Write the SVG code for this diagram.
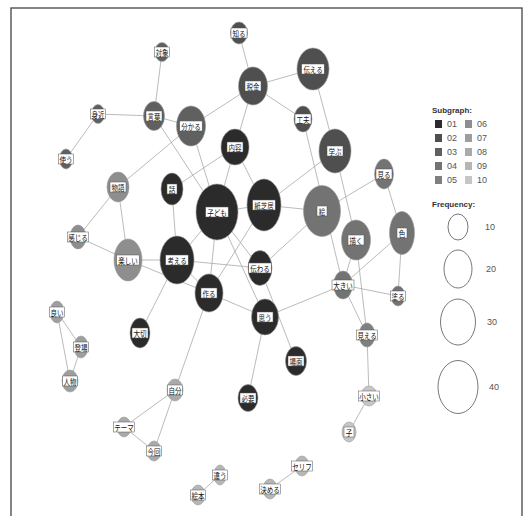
<svg xmlns="http://www.w3.org/2000/svg" width="525" height="516" viewBox="0 0 525 516">
<style>
.bg{fill:#fff}
.frame{fill:none;stroke:#444;stroke-width:1.3}
.e line{stroke:#aaa;stroke-width:0.8}
.n ellipse{stroke:#999;stroke-width:0.6}
.n rect{fill:#fff;stroke:#555;stroke-width:0.5}
.n text{font-family:"Noto Sans CJK JP","Noto Sans",sans-serif;font-size:6.5px;fill:#111;text-anchor:middle;dominant-baseline:central}
.s1{fill:#2b2b2b}.s2{fill:#4f4f4f}.s3{fill:#606060}.s4{fill:#737373}.s5{fill:#808080}
.s6{fill:#8e8e8e}.s7{fill:#9e9e9e}.s8{fill:#aaaaaa}.s9{fill:#b6b6b6}.s10{fill:#c6c6c6}
.lg text{font-family:"Liberation Sans Narrow","Liberation Sans",sans-serif;font-size:9px;fill:#555;dominant-baseline:central}
.lg .ttl{font-family:"Liberation Sans",sans-serif;font-weight:bold;font-size:8px;fill:#333}
.lg ellipse{fill:none;stroke:#555;stroke-width:0.8}
</style>
<rect class="bg" x="0" y="0" width="525" height="516"/>
<rect class="frame" x="11" y="8" width="511" height="520"/>
<g id="connectors" class="e">
<line x1="253" y1="86" x2="239" y2="33"/>
<line x1="253" y1="86" x2="313" y2="69"/>
<line x1="253" y1="86" x2="303" y2="119"/>
<line x1="253" y1="86" x2="191" y2="126"/>
<line x1="253" y1="86" x2="235" y2="147"/>
<line x1="313" y1="69" x2="335" y2="151"/>
<line x1="303" y1="119" x2="343" y2="285"/>
<line x1="335" y1="151" x2="356" y2="240"/>
<line x1="335" y1="151" x2="264" y2="205"/>
<line x1="322" y1="211" x2="384" y2="174"/>
<line x1="384" y1="174" x2="402" y2="233"/>
<line x1="356" y1="240" x2="343" y2="285"/>
<line x1="356" y1="240" x2="367" y2="335"/>
<line x1="402" y1="233" x2="343" y2="285"/>
<line x1="402" y1="233" x2="398" y2="296"/>
<line x1="343" y1="285" x2="398" y2="296"/>
<line x1="343" y1="285" x2="367" y2="335"/>
<line x1="343" y1="285" x2="265" y2="317"/>
<line x1="322" y1="211" x2="264" y2="205"/>
<line x1="322" y1="211" x2="260" y2="268"/>
<line x1="367" y1="335" x2="369" y2="396"/>
<line x1="369" y1="396" x2="349" y2="432"/>
<line x1="264" y1="205" x2="217" y2="212"/>
<line x1="264" y1="205" x2="209" y2="293"/>
<line x1="264" y1="205" x2="235" y2="147"/>
<line x1="217" y1="212" x2="235" y2="147"/>
<line x1="217" y1="212" x2="191" y2="126"/>
<line x1="217" y1="212" x2="154" y2="116"/>
<line x1="217" y1="212" x2="177" y2="260"/>
<line x1="217" y1="212" x2="209" y2="293"/>
<line x1="217" y1="212" x2="260" y2="268"/>
<line x1="217" y1="212" x2="265" y2="317"/>
<line x1="172" y1="189" x2="235" y2="147"/>
<line x1="172" y1="189" x2="177" y2="260"/>
<line x1="177" y1="260" x2="260" y2="268"/>
<line x1="177" y1="260" x2="128" y2="260"/>
<line x1="177" y1="260" x2="209" y2="293"/>
<line x1="177" y1="260" x2="140" y2="333"/>
<line x1="128" y1="260" x2="209" y2="293"/>
<line x1="128" y1="260" x2="118" y2="187"/>
<line x1="128" y1="260" x2="78" y2="237"/>
<line x1="118" y1="187" x2="78" y2="237"/>
<line x1="118" y1="187" x2="191" y2="126"/>
<line x1="154" y1="116" x2="162" y2="52"/>
<line x1="154" y1="116" x2="98" y2="114"/>
<line x1="154" y1="116" x2="191" y2="126"/>
<line x1="98" y1="114" x2="66" y2="159"/>
<line x1="209" y1="293" x2="265" y2="317"/>
<line x1="209" y1="293" x2="175" y2="390"/>
<line x1="265" y1="317" x2="248" y2="398"/>
<line x1="260" y1="268" x2="296" y2="361"/>
<line x1="57" y1="312" x2="81" y2="347"/>
<line x1="57" y1="312" x2="70" y2="381"/>
<line x1="81" y1="347" x2="70" y2="381"/>
<line x1="175" y1="390" x2="124" y2="427"/>
<line x1="175" y1="390" x2="154" y2="451"/>
<line x1="124" y1="427" x2="154" y2="451"/>
<line x1="220" y1="475" x2="198" y2="495"/>
<line x1="270" y1="489" x2="302" y2="466"/>
</g>
<g id="n-shiru" class="n" transform="translate(239,33)"><ellipse class="s2" rx="8.5" ry="11"/><rect x="-8" y="-5" width="16" height="10"/><text transform="scale(1,1.3)">知る</text></g>
<g id="n-tsutaeru" class="n" transform="translate(313,69)"><ellipse class="s2" rx="16" ry="21"/><rect x="-11.3" y="-5" width="22.5" height="10"/><text transform="scale(1,1.3)">伝える</text></g>
<g id="n-zeikin" class="n" transform="translate(253,86)"><ellipse class="s2" rx="14.5" ry="19"/><rect x="-8" y="-5" width="16" height="10"/><text transform="scale(1,1.3)">税金</text></g>
<g id="n-kufu" class="n" transform="translate(303,119)"><ellipse class="s2" rx="9" ry="13"/><rect x="-8" y="-5" width="16" height="10"/><text transform="scale(1,1.3)">工夫</text></g>
<g id="n-manabu" class="n" transform="translate(335,151)"><ellipse class="s2" rx="16" ry="22"/><rect x="-8" y="-5" width="16" height="10"/><text transform="scale(1,1.3)">学ぶ</text></g>
<g id="n-wakaru" class="n" transform="translate(191,126)"><ellipse class="s3" rx="14.5" ry="20"/><rect x="-11.3" y="-5" width="22.5" height="10"/><text transform="scale(1,1.3)">分かる</text></g>
<g id="n-naiyo" class="n" transform="translate(235,147)"><ellipse class="s1" rx="14" ry="18"/><rect x="-8" y="-5" width="16" height="10"/><text transform="scale(1,1.3)">内容</text></g>
<g id="n-kotoba" class="n" transform="translate(154,116)"><ellipse class="s3" rx="10.5" ry="14.5"/><rect x="-8" y="-5" width="16" height="10"/><text transform="scale(1,1.3)">言葉</text></g>
<g id="n-taisho" class="n" transform="translate(162,52)"><ellipse class="s3" rx="7" ry="9.5"/><rect x="-7.5" y="-5" width="15" height="10"/><text transform="scale(1,1.3)">対象</text></g>
<g id="n-mijika" class="n" transform="translate(98,114)"><ellipse class="s3" rx="6.5" ry="9.5"/><rect x="-7.5" y="-5" width="15" height="10"/><text transform="scale(1,1.3)">身近</text></g>
<g id="n-tsukau" class="n" transform="translate(66,159)"><ellipse class="s3" rx="6.5" ry="10"/><rect x="-7.5" y="-5" width="15" height="10"/><text transform="scale(1,1.3)">使う</text></g>
<g id="n-monogatari" class="n" transform="translate(118,187)"><ellipse class="s6" rx="11" ry="15"/><rect x="-8" y="-5" width="16" height="10"/><text transform="scale(1,1.3)">物語</text></g>
<g id="n-kanjiru" class="n" transform="translate(78,237)"><ellipse class="s6" rx="8" ry="12"/><rect x="-10.5" y="-5" width="21" height="10"/><text transform="scale(1,1.3)">感じる</text></g>
<g id="n-tanoshii" class="n" transform="translate(128,260)"><ellipse class="s6" rx="14" ry="21"/><rect x="-11.3" y="-5" width="22.5" height="10"/><text transform="scale(1,1.3)">楽しい</text></g>
<g id="n-yoi" class="n" transform="translate(57,312)"><ellipse class="s7" rx="7" ry="11"/><rect x="-7.5" y="-5" width="15" height="10"/><text transform="scale(1,1.3)">良い</text></g>
<g id="n-tojo" class="n" transform="translate(81,347)"><ellipse class="s7" rx="7" ry="11"/><rect x="-7.5" y="-5" width="15" height="10"/><text transform="scale(1,1.3)">登場</text></g>
<g id="n-jinbutsu" class="n" transform="translate(70,381)"><ellipse class="s7" rx="8" ry="11"/><rect x="-7.5" y="-5" width="15" height="10"/><text transform="scale(1,1.3)">人物</text></g>
<g id="n-taisetsu" class="n" transform="translate(140,333)"><ellipse class="s1" rx="10" ry="15"/><rect x="-8" y="-5" width="16" height="10"/><text transform="scale(1,1.3)">大切</text></g>
<g id="n-hanashi" class="n" transform="translate(172,189)"><ellipse class="s1" rx="11" ry="16"/><rect x="-5" y="-5" width="10" height="10"/><text transform="scale(1,1.3)">話</text></g>
<g id="n-kodomo" class="n" transform="translate(217,212)"><ellipse class="s1" rx="21" ry="28"/><rect x="-11.3" y="-5" width="22.5" height="10"/><text transform="scale(1,1.3)">子ども</text></g>
<g id="n-kamishibai" class="n" transform="translate(264,205)"><ellipse class="s1" rx="17" ry="26"/><rect x="-11.3" y="-5" width="22.5" height="10"/><text transform="scale(1,1.3)">紙芝居</text></g>
<g id="n-e" class="n" transform="translate(322,211)"><ellipse class="s4" rx="18.5" ry="25.5"/><rect x="-5" y="-5" width="10" height="10"/><text transform="scale(1,1.3)">絵</text></g>
<g id="n-miru" class="n" transform="translate(384,174)"><ellipse class="s4" rx="9.5" ry="15"/><rect x="-8" y="-5" width="16" height="10"/><text transform="scale(1,1.3)">見る</text></g>
<g id="n-kaku" class="n" transform="translate(356,240)"><ellipse class="s4" rx="14.5" ry="20"/><rect x="-8" y="-5" width="16" height="10"/><text transform="scale(1,1.3)">描く</text></g>
<g id="n-iro" class="n" transform="translate(402,233)"><ellipse class="s4" rx="12.5" ry="21.5"/><rect x="-5" y="-5" width="10" height="10"/><text transform="scale(1,1.3)">色</text></g>
<g id="n-ookii" class="n" transform="translate(343,285)"><ellipse class="s4" rx="9.5" ry="14"/><rect x="-11" y="-5" width="22" height="10"/><text transform="scale(1,1.3)">大きい</text></g>
<g id="n-nuru" class="n" transform="translate(398,296)"><ellipse class="s4" rx="7" ry="10"/><rect x="-7.5" y="-5" width="15" height="10"/><text transform="scale(1,1.3)">塗る</text></g>
<g id="n-mieru" class="n" transform="translate(367,335)"><ellipse class="s5" rx="8" ry="12"/><rect x="-10.5" y="-5" width="21" height="10"/><text transform="scale(1,1.3)">見える</text></g>
<g id="n-chiisai" class="n" transform="translate(369,396)"><ellipse class="s10" rx="8" ry="10"/><rect x="-10.5" y="-5" width="21" height="10"/><text transform="scale(1,1.3)">小さい</text></g>
<g id="n-ko" class="n" transform="translate(349,432)"><ellipse class="s10" rx="7" ry="10"/><rect x="-5" y="-5" width="10" height="10"/><text transform="scale(1,1.3)">子</text></g>
<g id="n-kangaeru" class="n" transform="translate(177,260)"><ellipse class="s1" rx="17" ry="24"/><rect x="-11.3" y="-5" width="22.5" height="10"/><text transform="scale(1,1.3)">考える</text></g>
<g id="n-tsutawaru" class="n" transform="translate(260,268)"><ellipse class="s1" rx="12" ry="17.5"/><rect x="-11.3" y="-5" width="22.5" height="10"/><text transform="scale(1,1.3)">伝わる</text></g>
<g id="n-tsukuru" class="n" transform="translate(209,293)"><ellipse class="s1" rx="14" ry="19"/><rect x="-8" y="-5" width="16" height="10"/><text transform="scale(1,1.3)">作る</text></g>
<g id="n-omou" class="n" transform="translate(265,317)"><ellipse class="s1" rx="13.5" ry="18"/><rect x="-8" y="-5" width="16" height="10"/><text transform="scale(1,1.3)">思う</text></g>
<g id="n-bamen" class="n" transform="translate(296,361)"><ellipse class="s1" rx="10.5" ry="14.5"/><rect x="-8" y="-5" width="16" height="10"/><text transform="scale(1,1.3)">場面</text></g>
<g id="n-hitsuyo" class="n" transform="translate(248,398)"><ellipse class="s1" rx="10" ry="13.5"/><rect x="-8" y="-5" width="16" height="10"/><text transform="scale(1,1.3)">必要</text></g>
<g id="n-jibun" class="n" transform="translate(175,390)"><ellipse class="s8" rx="8" ry="11"/><rect x="-7.5" y="-5" width="15" height="10"/><text transform="scale(1,1.3)">自分</text></g>
<g id="n-tema" class="n" transform="translate(124,427)"><ellipse class="s8" rx="7" ry="10"/><rect x="-10.5" y="-5" width="21" height="10"/><text transform="scale(1,1.3)">テーマ</text></g>
<g id="n-konkai" class="n" transform="translate(154,451)"><ellipse class="s8" rx="7" ry="10"/><rect x="-7.5" y="-5" width="15" height="10"/><text transform="scale(1,1.3)">今回</text></g>
<g id="n-chigau" class="n" transform="translate(220,475)"><ellipse class="s9" rx="6" ry="10"/><rect x="-7.5" y="-5" width="15" height="10"/><text transform="scale(1,1.3)">違う</text></g>
<g id="n-ehon" class="n" transform="translate(198,495)"><ellipse class="s9" rx="7" ry="10"/><rect x="-7.5" y="-5" width="15" height="10"/><text transform="scale(1,1.3)">絵本</text></g>
<g id="n-kimeru" class="n" transform="translate(270,489)"><ellipse class="s9" rx="7" ry="10"/><rect x="-10.5" y="-5" width="21" height="10"/><text transform="scale(1,1.3)">決める</text></g>
<g id="n-serifu" class="n" transform="translate(302,466)"><ellipse class="s9" rx="7" ry="10"/><rect x="-10.5" y="-5" width="21" height="10"/><text transform="scale(1,1.3)">セリフ</text></g>
<g id="legend" class="lg">
<text class="ttl" x="432" y="110">Subgraph:</text>
<rect class="s1" x="435" y="120" width="7" height="8"/><text x="447" y="124">01</text>
<rect class="s2" x="435" y="134" width="7" height="8"/><text x="447" y="138">02</text>
<rect class="s3" x="435" y="148" width="7" height="8"/><text x="447" y="152">03</text>
<rect class="s4" x="435" y="162" width="7" height="8"/><text x="447" y="166">04</text>
<rect class="s5" x="435" y="176" width="7" height="8"/><text x="447" y="180">05</text>
<rect class="s6" x="465" y="120" width="7" height="8"/><text x="477" y="124">06</text>
<rect class="s7" x="465" y="134" width="7" height="8"/><text x="477" y="138">07</text>
<rect class="s8" x="465" y="148" width="7" height="8"/><text x="477" y="152">08</text>
<rect class="s9" x="465" y="162" width="7" height="8"/><text x="477" y="166">09</text>
<rect class="s10" x="465" y="176" width="7" height="8"/><text x="477" y="180">10</text>
<text class="ttl" x="432" y="204">Frequency:</text>
<ellipse cx="458" cy="227" rx="10" ry="13"/><text x="485" y="227">10</text>
<ellipse cx="458" cy="269" rx="14" ry="19"/><text x="486" y="269">20</text>
<ellipse cx="458" cy="322" rx="17.5" ry="23"/><text x="487" y="322">30</text>
<ellipse cx="458" cy="387" rx="20" ry="26.5"/><text x="489" y="387">40</text>
</g>
</svg>
